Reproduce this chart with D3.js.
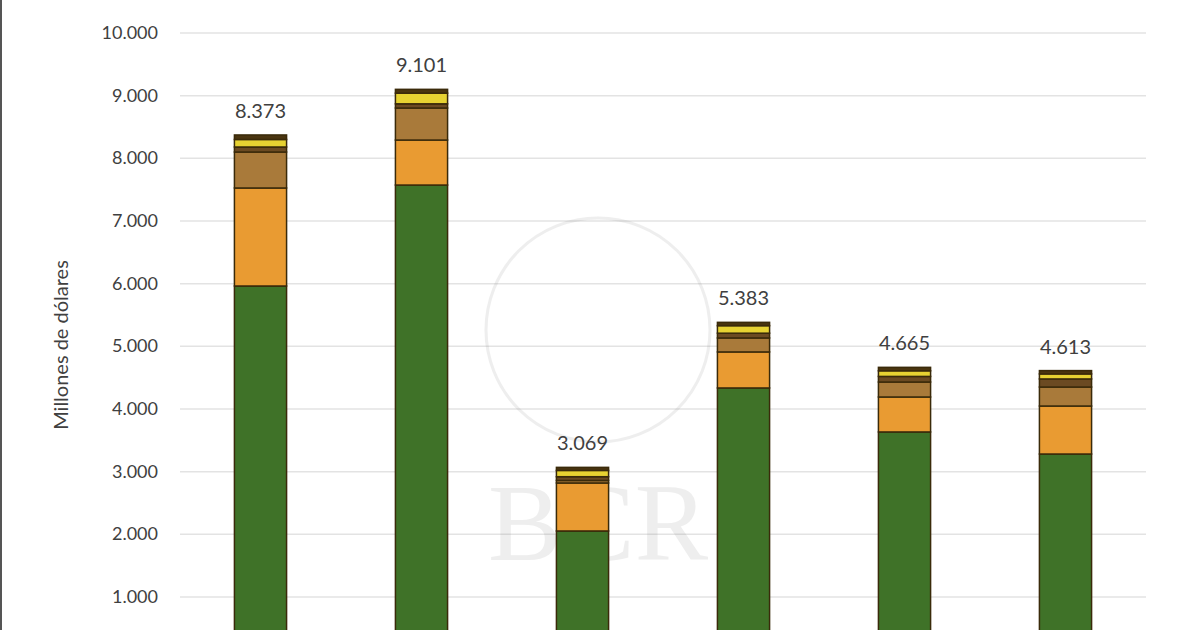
<!DOCTYPE html><html><head><meta charset="utf-8">
<script src="https://cdn.jsdelivr.net/npm/d3@7"></script>
<style>body{margin:0;background:#fff}svg{display:block}</style></head><body>
<svg id="c" width="1200" height="630"></svg>
<script>
const categories=["A","B","C","D","E","F"];
const totals=[8373,9101,3069,5383,4665,4613];
const green=[5963,7574,2054,4336,3634,3282];
const orange=[1564,718,766,575,558,766];
const tan=[574,511,40,223,239,303];
const darkBrown=[80,67,60,76,89,129];
const yellow=[120,170,100,120,90,80];
const topDark=[72,61,49,53,55,53];
const yTicks=[1000,2000,3000,4000,5000,6000,7000,8000,9000,10000];
const series=[green,orange,tan,darkBrown,yellow,topDark];
const colors=["#3f7228","#e99b32","#a97a3a","#6b4a22","#e7d232","#4a3510"];

const svg=d3.select("#c");
svg.append("rect").attr("x",0).attr("y",0).attr("width",1200).attr("height",630).attr("fill","#fff");
svg.append("line").attr("x1",1).attr("x2",1).attr("y1",0).attr("y2",630).attr("stroke","#555").attr("stroke-width",2);
const y=d3.scaleLinear().domain([0,10000]).range([659.7,33]);
const x=d3.scaleBand().domain(categories).range([180,1146]).paddingInner(0.676).paddingOuter(0.338);
const fmt=d=>d3.format(",")(d).replace(/,/g,".");

const g=svg.append("g");
g.selectAll("line.grid").data(yTicks).join("line").attr("x1",180).attr("x2",1146)
 .attr("y1",d=>y(d)).attr("y2",d=>y(d)).attr("stroke","#e3e3e3").attr("stroke-width",1.5);
g.selectAll("text.yt").data(yTicks).join("text").attr("x",158).attr("y",d=>y(d)+6)
 .attr("text-anchor","end").attr("font-family","Lato, sans-serif").attr("font-size",18).attr("fill","#404040").text(fmt);

const wm=svg.append("g").attr("opacity",0.12);
wm.append("circle").attr("cx",598).attr("cy",330).attr("r",112).attr("fill","none").attr("stroke","#777").attr("stroke-width",3);
wm.append("text").attr("x",598).attr("y",560).attr("text-anchor","middle").attr("font-family","Liberation Serif, serif").attr("font-size",110).attr("fill","#777").text("BCR");

svg.append("text").attr("transform","translate(68,345) rotate(-90)").attr("text-anchor","middle")
 .attr("font-family","Lato, sans-serif").attr("font-size",20).attr("fill","#404040").text("Millones de dólares");

categories.forEach((c,i)=>{
  let base=0;
  series.forEach((s,k)=>{
    svg.append("rect").attr("x",x(c)).attr("width",x.bandwidth())
     .attr("y",y(base+s[i])).attr("height",y(base)-y(base+s[i]))
     .attr("fill",colors[k]).attr("stroke","#3a2a0a").attr("stroke-width",1.5);
    base+=s[i];
  });
  svg.append("text").attr("x",x(c)+x.bandwidth()/2).attr("y",y(totals[i])-17).attr("text-anchor","middle")
   .attr("font-family","Lato, sans-serif").attr("font-size",20).attr("fill","#404040").text(fmt(totals[i]));
});
</script></body></html>
